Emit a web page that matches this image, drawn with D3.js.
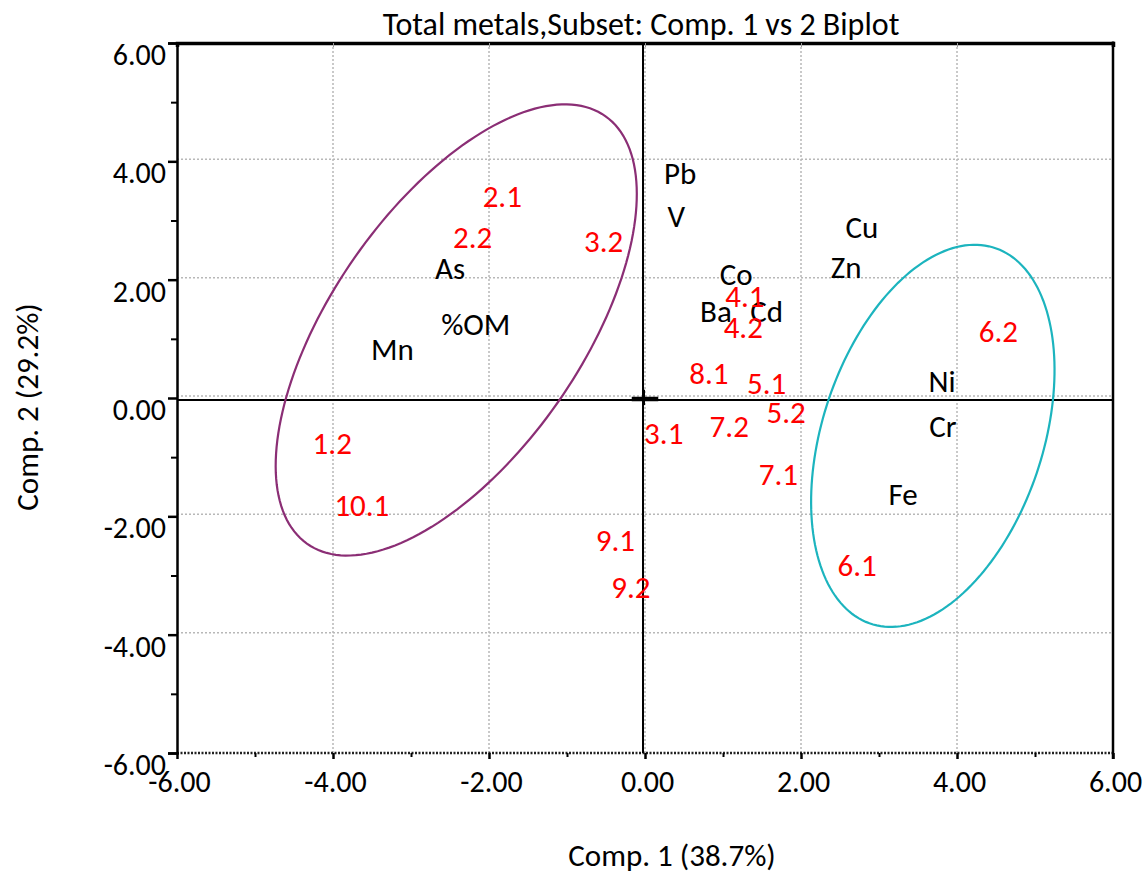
<!DOCTYPE html>
<html>
<head>
<meta charset="utf-8">
<script src="https://cdn.jsdelivr.net/npm/d3@7/dist/d3.min.js"></script>
<style>
  body { margin: 0; background: #fff; }
  svg { font-family: Carlito, Calibri, "Open Sans", sans-serif; }
</style>
</head>
<body>
<svg id="chart" width="1146" height="873"></svg>
<script>
// axis ticks
const majorTicks = [-6, -4, -2, 0, 2, 4, 6];
const minorTicks = [-5, -3, -1, 1, 3, 5];

// variable loadings (black labels)
const varNames = ["Pb", "V", "Cu", "Zn", "Co", "Ba", "Cd", "As", "%OM", "Mn", "Ni", "Cr", "Fe"];
const varComp1 = [0.45, 0.40, 2.78, 2.58, 1.17, 0.91, 1.56, -2.50, -2.17, -3.24, 3.81, 3.82, 3.31];
const varComp2 = [3.80, 3.08, 2.89, 2.21, 2.10, 1.47, 1.47, 2.20, 1.25, 0.83, 0.29, -0.47, -1.62];

// site scores (red labels)
const siteNames = ["2.1", "2.2", "3.2", "4.1", "4.2", "8.1", "5.1", "5.2", "3.1", "7.2", "7.1", "6.2", "6.1", "1.2", "10.1", "9.1", "9.2"];
const siteComp1 = [-1.83, -2.21, -0.53, 1.28, 1.26, 0.82, 1.56, 1.81, 0.24, 1.08, 1.71, 4.53, 2.72, -4.01, -3.63, -0.38, -0.18];
const siteComp2 = [3.41, 2.72, 2.65, 1.72, 1.20, 0.42, 0.25, -0.24, -0.59, -0.47, -1.28, 1.13, -2.82, -0.76, -1.81, -2.40, -3.19];

// group ellipses: centre, semi-axes and tilt (degrees) in data units
const ellipseCx = [-2.42, 3.69];
const ellipseCy = [1.15, -0.64];
const ellipseA = [4.12, 3.285];
const ellipseB = [1.71, 1.44];
const ellipseTilt = [65.4, 78.25];

const ellipseColors = ["#8B2E75", "#1CB4BE"];

const svg = d3.select("#chart");
const x = d3.scaleLinear().domain([-6, 6]).range([177, 1113]);
const y = d3.scaleLinear().domain([-6, 6]).range([753, 43]);
const fmt = d => d3.format(".2f")(d).replace("\u2212", "-");

// grid lines (dotted)
const grid = svg.append("g").attr("class", "grid");
grid.selectAll(".gx").data(majorTicks.filter(d => d > -6 && d < 6)).enter().append("line")
  .attr("x1", d => x(d)).attr("x2", d => x(d))
  .attr("y1", y(6)).attr("y2", y(-6))
  .attr("stroke", "#b8b8b8").attr("stroke-width", 1.5).attr("stroke-dasharray", "2,2");
grid.selectAll(".gy").data(majorTicks.filter(d => d > -6 && d < 6)).enter().append("line")
  .attr("x1", x(-6)).attr("x2", x(6))
  .attr("y1", d => y(d) - 2).attr("y2", d => y(d) - 2)
  .attr("stroke", "#b8b8b8").attr("stroke-width", 1.5).attr("stroke-dasharray", "2,2");

// bottom edge (dotted dark)
svg.append("line")
  .attr("x1", x(-6)).attr("x2", x(6)).attr("y1", y(-6)).attr("y2", y(-6))
  .attr("stroke", "#222").attr("stroke-width", 2.5).attr("stroke-dasharray", "2,1.5");

// left axis
const yAxis = svg.append("g").attr("transform", `translate(${x(-6)},0)`)
  .call(d3.axisLeft(y).tickValues(majorTicks).tickSize(9).tickPadding(2).tickFormat(fmt))
  .attr("font-family", null);
yAxis.select(".domain").attr("stroke-width", 2.5);
yAxis.selectAll(".tick line").attr("stroke-width", 2.5);
yAxis.selectAll(".tick text").attr("font-size", 30).attr("dy", "0.72em").attr("fill", "#000");
svg.append("g").attr("transform", `translate(${x(-6)},0)`)
  .call(d3.axisLeft(y).tickValues(minorTicks).tickSize(6).tickFormat(""))
  .call(g => g.select(".domain").remove())
  .selectAll(".tick line").attr("stroke-width", 2);

// bottom axis
const xAxis = svg.append("g").attr("transform", `translate(0,${y(-6)})`)
  .call(d3.axisBottom(x).tickValues(majorTicks).tickSize(6).tickPadding(12).tickFormat(fmt))
  .attr("font-family", null);
xAxis.select(".domain").remove();
xAxis.selectAll(".tick line").attr("stroke-width", 2.5);
xAxis.selectAll(".tick text").attr("font-size", 30).attr("fill", "#000").attr("dx", 2);
svg.append("g").attr("transform", `translate(0,${y(-6)})`)
  .call(d3.axisBottom(x).tickValues(minorTicks).tickSize(4).tickFormat(""))
  .call(g => g.select(".domain").remove())
  .selectAll(".tick line").attr("stroke-width", 2);

// top edge with small inward ticks
const topAxis = svg.append("g").attr("transform", `translate(0,${y(6)})`)
  .call(d3.axisBottom(x).tickValues(majorTicks.filter(d => d > -6 && d < 6)).tickSize(4).tickFormat(""));
topAxis.select(".domain").attr("stroke-width", 3.5);
topAxis.selectAll(".tick line").attr("stroke", "#999").attr("stroke-width", 1);

// right edge
svg.append("line")
  .attr("x1", x(6)).attr("x2", x(6)).attr("y1", y(6) - 1.5).attr("y2", y(-6) + 6)
  .attr("stroke", "#000").attr("stroke-width", 2.5);

// zero axes
svg.append("line").attr("x1", x(-6)).attr("x2", x(6)).attr("y1", y(0) + 2).attr("y2", y(0) + 2)
  .attr("stroke", "#000").attr("stroke-width", 2);
svg.append("line").attr("x1", x(0) - 2).attr("x2", x(0) - 2).attr("y1", y(6)).attr("y2", y(-6))
  .attr("stroke", "#000").attr("stroke-width", 2);
// origin cross
svg.append("line").attr("x1", x(-0.17)).attr("x2", x(0.17)).attr("y1", y(0) + 1).attr("y2", y(0) + 1)
  .attr("stroke", "#000").attr("stroke-width", 4.5);
svg.append("line").attr("x1", x(0) - 1.5).attr("x2", x(0) - 1.5).attr("y1", y(0.14)).attr("y2", y(-0.12))
  .attr("stroke", "#000").attr("stroke-width", 3);

// ellipses
const ellipseLine = d3.line().x(p => x(p[0])).y(p => y(p[1])).curve(d3.curveLinearClosed);
ellipseCx.forEach((cx, i) => {
  const th = ellipseTilt[i] * Math.PI / 180;
  const pts = d3.range(0, 360, 2).map(deg => {
    const t = deg * Math.PI / 180;
    const u = ellipseA[i] * Math.cos(t), v = ellipseB[i] * Math.sin(t);
    return [cx + u * Math.cos(th) - v * Math.sin(th), ellipseCy[i] + u * Math.sin(th) + v * Math.cos(th)];
  });
  svg.append("path").attr("d", ellipseLine(pts))
    .attr("fill", "none").attr("stroke", ellipseColors[i]).attr("stroke-width", 2.2);
});

// variable labels
svg.append("g").selectAll("text").data(varNames).enter().append("text")
  .attr("x", (d, i) => x(varComp1[i])).attr("y", (d, i) => y(varComp2[i]))
  .attr("text-anchor", "middle").attr("dominant-baseline", "central")
  .attr("font-size", 31).attr("fill", "#000").text(d => d);

// site labels
svg.append("g").selectAll("text").data(siteNames).enter().append("text")
  .attr("x", (d, i) => x(siteComp1[i])).attr("y", (d, i) => y(siteComp2[i]))
  .attr("text-anchor", "middle").attr("dominant-baseline", "central")
  .attr("font-size", 31).attr("fill", "#ff0000").text(d => d);

// titles
svg.append("text").attr("x", 641).attr("y", 35).attr("text-anchor", "middle")
  .attr("font-size", 32).attr("fill", "#000").text("Total metals,Subset: Comp. 1 vs 2 Biplot");
svg.append("text").attr("x", 672).attr("y", 866).attr("text-anchor", "middle")
  .attr("font-size", 31).attr("fill", "#000").text("Comp. 1 (38.7%)");
svg.append("text").attr("transform", "translate(38,407) rotate(-90)").attr("text-anchor", "middle")
  .attr("font-size", 31).attr("fill", "#000").text("Comp. 2 (29.2%)");
</script>
</body>
</html>
